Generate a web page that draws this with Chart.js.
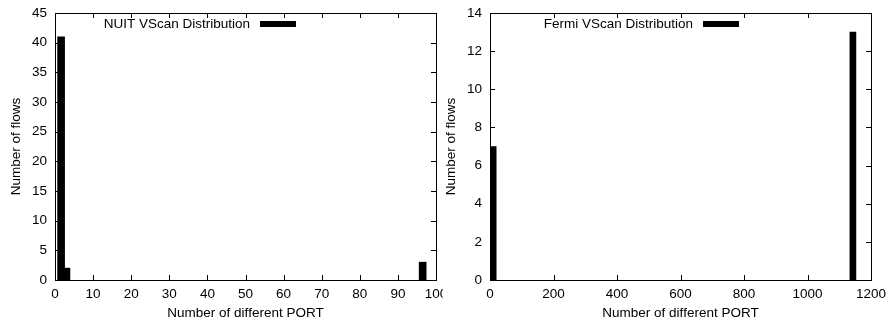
<!DOCTYPE html>
<html>
<head>
<meta charset="utf-8">
<script src="https://cdn.jsdelivr.net/npm/chart.js@4"></script>
<style>
  body { margin: 0; background: #fff; }
  #wrap { display: flex; width: 886px; height: 327px; }
  canvas { display: block; }
</style>
</head>
<body>
<div id="wrap">
  <canvas id="nuitChart" width="443" height="327"></canvas>
  <canvas id="fermiChart" width="443" height="327"></canvas>
</div>
<script>
  // NUIT histogram
  const nuitPorts = [1.6, 3, 96.5];
  const nuitFlows = [41, 2, 3];
  const nuitXTicks = [0, 10, 20, 30, 40, 50, 60, 70, 80, 90, 100];
  const nuitYTicks = [0, 5, 10, 15, 20, 25, 30, 35, 40, 45];

  // Fermi histogram
  const fermiPorts = [10, 1143];
  const fermiFlows = [7, 13];
  const fermiXTicks = [0, 200, 400, 600, 800, 1000, 1200];
  const fermiYTicks = [0, 2, 4, 6, 8, 10, 12, 14];

  const FONT = { family: '"Liberation Sans", Arial, Helvetica, sans-serif', size: 13.5 };
  Chart.defaults.color = '#000';
  Chart.defaults.font = FONT;

  // gnuplot style frame, inward ticks on all four sides, key at top
  const gnuplotFrame = {
    id: 'gnuplotFrame',
    afterDatasetsDraw(chart) {
      const ctx = chart.ctx;
      const a = chart.chartArea;
      const len = 5;
      ctx.save();
      ctx.strokeStyle = '#000';
      ctx.lineWidth = 1;
      ctx.beginPath();
      chart.scales.x.ticks.forEach(t => {
        const px = Math.round(chart.scales.x.getPixelForValue(t.value)) + 0.5;
        if (px <= a.left + 1 || px >= a.right - 1) return;
        ctx.moveTo(px, a.bottom); ctx.lineTo(px, a.bottom - len);
        ctx.moveTo(px, a.top); ctx.lineTo(px, a.top + len);
      });
      chart.scales.y.ticks.forEach(t => {
        const py = Math.round(chart.scales.y.getPixelForValue(t.value)) + 0.5;
        if (py <= a.top + 1 || py >= a.bottom - 1) return;
        ctx.moveTo(a.left, py); ctx.lineTo(a.left + len, py);
        ctx.moveTo(a.right, py); ctx.lineTo(a.right - len, py);
      });
      ctx.stroke();
      ctx.strokeRect(Math.round(a.left) + 0.5, Math.round(a.top) + 0.5,
        Math.round(a.right - a.left), Math.round(a.bottom - a.top));

      // key: label right-aligned, sample box after it
      const ds = chart.data.datasets[0];
      ctx.font = FONT.size + 'px ' + FONT.family;
      ctx.fillStyle = '#000';
      ctx.textAlign = 'right';
      ctx.textBaseline = 'middle';
      ctx.fillText(ds.label, 250, 24);
      ctx.fillStyle = ds.backgroundColor;
      ctx.fillRect(260, 21, 36, 6);
      ctx.restore();
    }
  };

  function makeChart(id, label, ports, flows, xTicks, yTicks, opts) {
    const ctx = document.getElementById(id).getContext('2d');
    return new Chart(ctx, {
      type: 'bar',
      data: {
        datasets: [{
          label: label,
          data: ports.map((p, i) => ({ x: p, y: flows[i] })),
          backgroundColor: '#000',
          borderWidth: 0,
          barThickness: opts.barWidth
        }]
      },
      options: {
        responsive: false,
        animation: false,
        layout: { padding: { left: 0, right: opts.padRight, top: 13, bottom: 0 } },
        plugins: { legend: { display: false }, tooltip: { enabled: false } },
        scales: {
          x: {
            type: 'linear',
            min: xTicks[0],
            max: xTicks[xTicks.length - 1],
            offset: false,
            grid: { display: false, drawTicks: false, offset: false },
            border: { display: false },
            afterBuildTicks: s => { s.ticks = xTicks.map(v => ({ value: v })); },
            ticks: { padding: 6, maxRotation: 0, autoSkip: false, callback: v => String(v) },
            title: { display: true, text: 'Number of different PORT', padding: { top: 0, bottom: 6 } },
            afterFit: s => { s.height = 47; s.paddingLeft = 0; s.paddingRight = 0; }
          },
          y: {
            min: yTicks[0],
            max: yTicks[yTicks.length - 1],
            grid: { display: false, drawTicks: false },
            border: { display: false },
            afterBuildTicks: s => { s.ticks = yTicks.map(v => ({ value: v })); },
            ticks: { padding: 8, autoSkip: false, callback: v => String(v) },
            title: { display: true, text: 'Number of flows', padding: { top: opts.yTitlePad, bottom: 0 } },
            afterFit: s => { s.width = opts.yWidth; s.paddingTop = 0; s.paddingBottom = 0; }
          }
        }
      },
      plugins: [gnuplotFrame]
    });
  }

  makeChart('nuitChart', 'NUIT VScan Distribution', nuitPorts, nuitFlows, nuitXTicks, nuitYTicks,
    { barWidth: 7, padRight: 7, yWidth: 55, yTitlePad: 8 });
  makeChart('fermiChart', 'Fermi VScan Distribution', fermiPorts, fermiFlows, fermiXTicks, fermiYTicks,
    { barWidth: 6, padRight: 15, yWidth: 47, yTitlePad: 0 });
</script>
</body>
</html>
